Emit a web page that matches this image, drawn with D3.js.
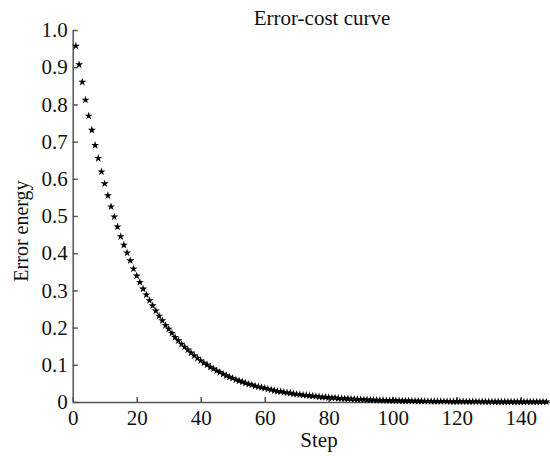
<!DOCTYPE html>
<html><head><meta charset="utf-8">
<script src="https://cdn.jsdelivr.net/npm/d3@7/dist/d3.min.js"></script>
<style>
html,body{margin:0;padding:0;background:#fff;}
svg text{font-family:"Liberation Serif","Times New Roman",Times,"DejaVu Serif",serif !important;}
</style></head>
<body>
<script>
const title = "Error-cost curve";
const xLabel = "Step";
const yLabel = "Error energy";
const xTicks = [0,20,40,60,80,100,120,140];
const yTicks = [0,0.1,0.2,0.3,0.4,0.5,0.6,0.7,0.8,0.9,1.0];
const yTickLabels = ["0","0.1","0.2","0.3","0.4","0.5","0.6","0.7","0.8","0.9","1.0"];
const errorEnergy = [
0.957,0.907,0.860,0.812,0.769,0.731,0.690,0.655,0.619,0.587,
0.555,0.525,0.498,0.471,0.445,0.422,0.401,0.380,0.358,0.339,
0.322,0.304,0.288,0.273,0.259,0.245,0.231,0.219,0.206,0.196,
0.185,0.174,0.165,0.156,0.148,0.140,0.132,0.125,0.118,0.111,
0.105,0.100,0.094,0.089,0.084,0.080,0.075,0.071,0.067,0.064,
0.060,0.057,0.054,0.051,0.048,0.046,0.043,0.041,0.039,0.037,
0.035,0.033,0.031,0.029,0.028,0.026,0.025,0.024,0.022,0.021,
0.020,0.019,0.018,0.017,0.016,0.015,0.014,0.013,0.013,0.012,
0.011,0.011,0.010,0.0095,0.009,0.0085,0.008,0.0076,0.0072,0.0068,
0.0064,0.0060,0.0057,0.0054,0.0051,0.0048,0.0045,0.0043,0.0040,0.0038,
0.0036,0.0034,0.0032,0.0030,0.0029,0.0027,0.0026,0.0024,0.0023,0.0022,
0.0020,0.0019,0.0018,0.0017,0.0016,0.0015,0.0015,0.0014,0.0013,0.0012,
0.0012,0.0011,0.0010,0.0010,0.0009,0.0009,0.0008,0.0008,0.0007,0.0007,
0.0007,0.0006,0.0006,0.0006,0.0005,0.0005,0.0005,0.0004,0.0004,0.0004,
0.0004,0.0003,0.0003,0.0003,0.0003,0.0003,0.0002,0.0002
];
const steps = errorEnergy.map((d,i)=>i+1);

const W=550,H=456;
const svg=d3.select("body").append("svg").attr("width",W).attr("height",H);
const x=d3.scaleLinear().domain([0,150]).range([72.7,552.7]);
const y=d3.scaleLinear().domain([0,1]).range([402,30]);
const axisColor="#555";

const xAxis=svg.append("g").attr("transform",`translate(0,${y(0)})`)
  .call(d3.axisBottom(x).tickValues(xTicks).tickSizeInner(-5).tickSizeOuter(0).tickPadding(8).tickFormat(d3.format("d")));
const yAxis=svg.append("g").attr("transform",`translate(${x(0)},0)`)
  .call(d3.axisLeft(y).tickValues(yTicks).tickSizeInner(-5).tickSizeOuter(0).tickPadding(5).tickFormat((d,i)=>yTickLabels[i]));
[xAxis,yAxis].forEach(g=>{
  g.attr("font-family",null);
  g.selectAll("path,line").attr("stroke",axisColor).attr("stroke-width",1.5);
  g.selectAll("text").attr("fill","#111").style("font-size","21px");
});

const star=d3.symbol().type(d3.symbolStar).size(20);
svg.append("g").selectAll("path").data(errorEnergy).join("path")
  .attr("d",star)
  .attr("transform",(d,i)=>`translate(${x(steps[i])},${y(d)})`)
  .attr("fill","#000");

svg.append("text").attr("x",322).attr("y",25).attr("text-anchor","middle")
  .style("font-size","21px").attr("fill","#111").text(title);
svg.append("text").attr("x",319).attr("y",447).attr("text-anchor","middle")
  .style("font-size","21px").attr("fill","#111").text(xLabel);
svg.append("text").attr("transform","translate(28,231) rotate(-90)").attr("text-anchor","middle")
  .style("font-size","20px").attr("fill","#111").text(yLabel);
</script>
</body></html>
